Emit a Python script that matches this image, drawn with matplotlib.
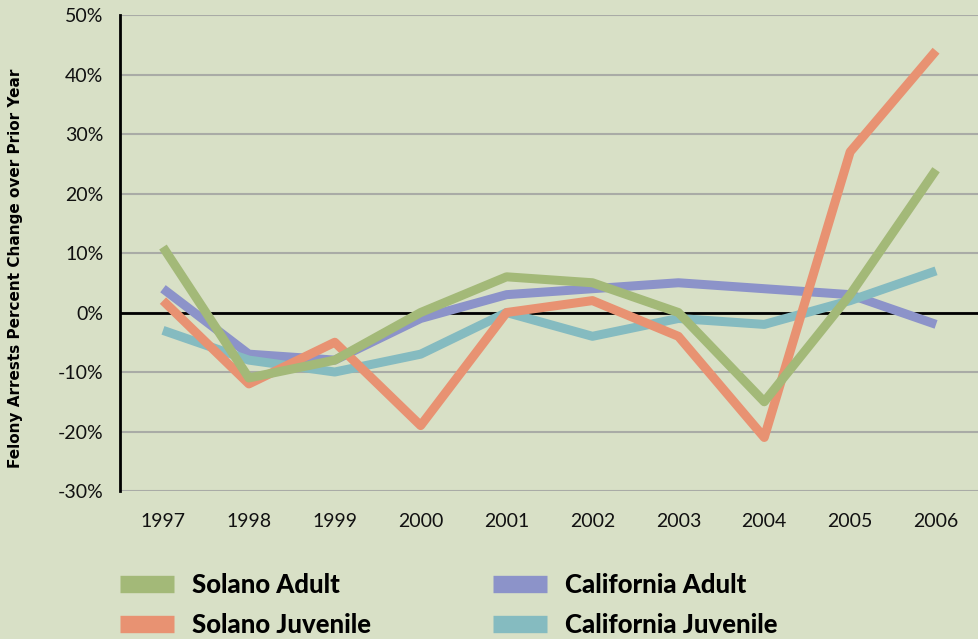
import matplotlib.pyplot as plt
from matplotlib.lines import Line2D

years = ['1997', '1998', '1999', '2000', '2001', '2002', '2003', '2004', '2005', '2006']
solano_adult = [11, -11, -8, 0, 6, 5, 0, -15, 3, 24]
solano_juvenile = [2, -12, -5, -19, 0, 2, -4, -21, 27, 44]
california_adult = [4, -7, -8, -1, 3, 4, 5, 4, 3, -2]
california_juvenile = [-3, -8, -10, -7, 0, -4, -1, -2, 2, 7]

bg = '#d8e0c6'
c_sa = '#a3b978'
c_sj = '#e89272'
c_ca = '#8c93c9'
c_cj = '#85bbc0'

plt.rcParams['font.family'] = ['Lato', 'DejaVu Sans']

fig = plt.figure(figsize=(9.79, 6.39), dpi=100, facecolor=bg)
ax = fig.add_axes([0.1226, 0.2316, 0.8774, 0.7449], facecolor=bg)

x = range(len(years))
lw = 6.5
ax.plot(x, california_adult, color=c_ca, lw=lw, solid_capstyle='butt', zorder=3)
ax.plot(x, california_juvenile, color=c_cj, lw=lw, solid_capstyle='butt', zorder=4)
ax.plot(x, solano_juvenile, color=c_sj, lw=lw, solid_capstyle='butt', zorder=5)
ax.plot(x, solano_adult, color=c_sa, lw=lw, solid_capstyle='butt', zorder=6)

ax.axhline(0, color='black', lw=2, zorder=2)
ax.set_xlim(-0.5, 9.5)
ax.set_ylim(-30, 50)
ax.set_yticks(range(-30, 51, 10))
ax.set_yticklabels([f'{v}%' for v in range(-30, 51, 10)])
ax.set_xticks(list(x))
ax.set_xticklabels(years)
ax.tick_params(axis='both', length=0, labelsize=14, labelcolor='#111111')
ax.tick_params(axis='y', pad=12)
ax.tick_params(axis='x', pad=16)
ax.grid(axis='y', color='#a9aba6', lw=1.5, zorder=1)
for s in ['top', 'right', 'bottom']:
    ax.spines[s].set_visible(False)
ax.spines['left'].set_linewidth(2)
ax.spines['left'].set_color('black')

fig.text(16 / 979, 1 - 268 / 639, 'Felony Arrests Percent Change over Prior Year',
         rotation=90, ha='center', va='center', fontsize=11, fontweight='bold',
         family='DejaVu Sans')

leg_kw = dict(loc='upper left', frameon=False, borderpad=0, borderaxespad=0,
              prop={'weight': 'black', 'size': 18.5}, handlelength=2.1,
              handletextpad=0.72, labelspacing=0.62)

h_sa = Line2D([], [], color=c_sa, lw=12.5, solid_capstyle='butt')
h_sj = Line2D([], [], color=c_sj, lw=12.5, solid_capstyle='butt')
h_ca = Line2D([], [], color=c_ca, lw=12.5, solid_capstyle='butt')
h_cj = Line2D([], [], color=c_cj, lw=12.5, solid_capstyle='butt')

leg1 = fig.legend([h_sa, h_sj], ['Solano Adult', 'Solano Juvenile'],
                  bbox_to_anchor=(120 / 979, 1 - 573 / 639), **leg_kw)
leg2 = fig.legend([h_ca, h_cj], ['California Adult', 'California Juvenile'],
                  bbox_to_anchor=(493 / 979, 1 - 573 / 639), **leg_kw)

fig.savefig('out.png', dpi=100, facecolor=bg)
